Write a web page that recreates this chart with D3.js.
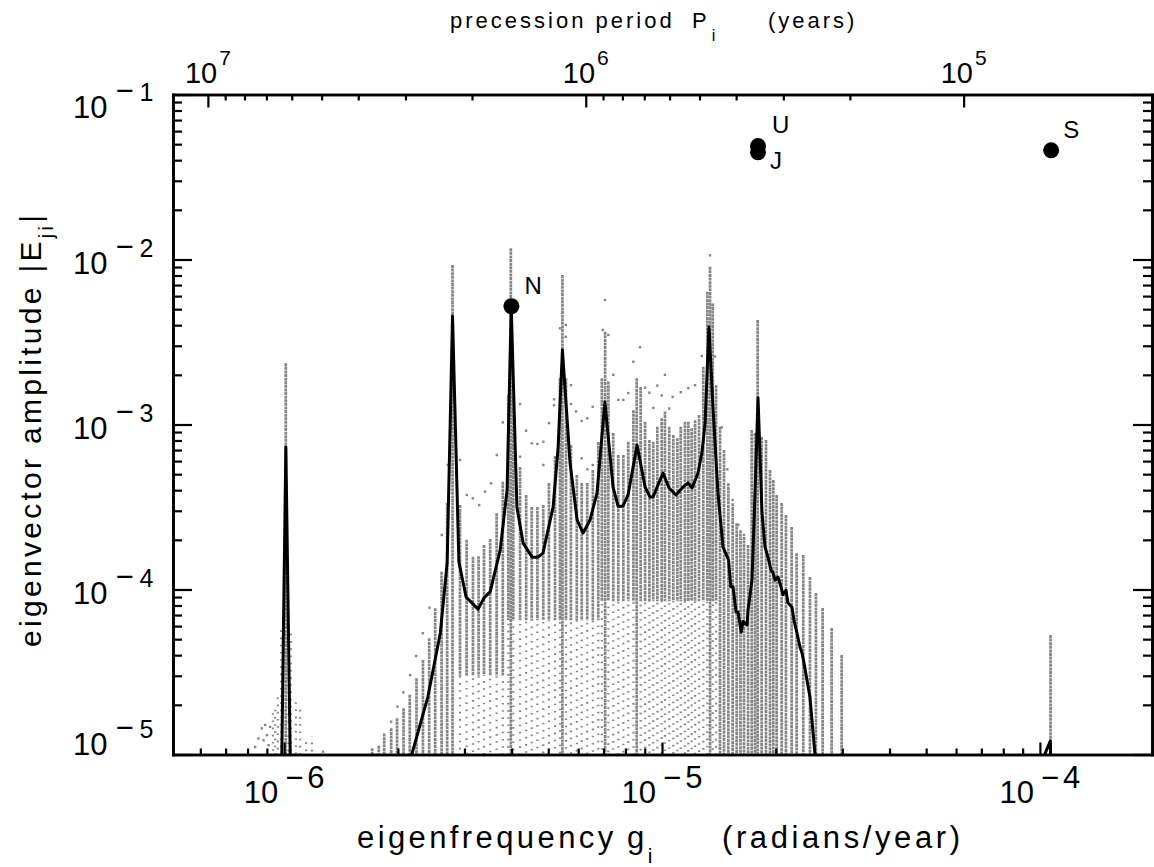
<!DOCTYPE html>
<html>
<head>
<meta charset="utf-8">
<script src="https://cdn.jsdelivr.net/npm/d3@7"></script>
<style>
  html, body { margin: 0; padding: 0; background: #fff; }
  svg { display: block; font-family: "Liberation Sans", Arial, sans-serif; }
</style>
</head>
<body>
<svg id="chart" width="1154" height="867"></svg>
<script>
// ---- axis ranges ----
const xDomain = [5.08e-7, 1.98e-4];   // eigenfrequency g (rad/yr)
const yDomain = [1e-5, 1e-1];         // eigenvector amplitude |E|

// ---- tick values ----
const bottomMajor = [1e-6, 1e-5, 1e-4];
const bottomExp = ["−6", "−5", "−4"];
const bottomMinor = [6e-7, 7e-7, 8e-7, 9e-7,
  2e-6, 3e-6, 4e-6, 5e-6, 6e-6, 7e-6, 8e-6, 9e-6,
  2e-5, 3e-5, 4e-5, 5e-5, 6e-5, 7e-5, 8e-5, 9e-5];
const leftMajor = [1e-5, 1e-4, 1e-3, 1e-2, 1e-1];
const leftExp = ["−5", "−4", "−3", "−2", "−1"];
const leftMinor = [2e-5, 3e-5, 4e-5, 5e-5, 6e-5, 7e-5, 8e-5, 9e-5,
  2e-4, 3e-4, 4e-4, 5e-4, 6e-4, 7e-4, 8e-4, 9e-4,
  2e-3, 3e-3, 4e-3, 5e-3, 6e-3, 7e-3, 8e-3, 9e-3,
  2e-2, 3e-2, 4e-2, 5e-2, 6e-2, 7e-2, 8e-2, 9e-2];
const topMajor = [1e7, 1e6, 1e5];     // precession period P (yr)
const topExp = ["7", "6", "5"];
const topMinor = [2e5, 3e5, 4e5, 5e5, 6e5, 7e5, 8e5, 9e5,
  2e6, 3e6, 4e6, 5e6, 6e6, 7e6, 8e6, 9e6];

// ---- binned eigenvector columns: frequency, highest amplitude, lower end of the dense part ----
const colFreq = [
  9.34e-7, 9.47e-7, 9.62e-7, 9.82e-7, 1.01e-6, 1.027e-6, 1.042e-6, 1.074e-6, 1.102e-6, 1.143e-6, 1.184e-6,
  1.71e-6, 1.78e-6, 1.84e-6, 1.92e-6, 1.99e-6, 2.07e-6, 2.15e-6, 2.24e-6, 2.33e-6, 2.42e-6, 2.51e-6, 2.61e-6, 2.70e-6, 2.79e-6,
  2.92e-6, 3.04e-6, 3.16e-6, 3.27e-6, 3.38e-6, 3.51e-6, 3.65e-6, 3.79e-6,
  3.92e-6, 3.98e-6, 4.04e-6, 4.21e-6, 4.37e-6, 4.52e-6, 4.68e-6, 4.85e-6, 5.02e-6, 5.21e-6, 5.37e-6, 5.45e-6, 5.57e-6, 5.74e-6, 5.95e-6, 6.13e-6, 6.34e-6, 6.56e-6, 6.78e-6,
  6.93e-6, 7.07e-6, 7.21e-6, 7.43e-6, 7.66e-6, 7.90e-6, 8.14e-6, 8.40e-6, 8.57e-6, 8.78e-6, 9.02e-6, 9.26e-6, 9.48e-6, 9.72e-6, 9.98e-6,
  1.018e-5, 1.045e-5, 1.071e-5, 1.098e-5, 1.121e-5, 1.150e-5, 1.174e-5, 1.198e-5, 1.223e-5, 1.253e-5, 1.286e-5, 1.318e-5, 1.340e-5, 1.362e-5, 1.390e-5,
  1.424e-5, 1.459e-5, 1.498e-5, 1.538e-5, 1.576e-5, 1.613e-5, 1.648e-5, 1.689e-5, 1.727e-5, 1.762e-5, 1.791e-5, 1.835e-5, 1.884e-5, 1.931e-5, 1.970e-5,
  2.011e-5, 2.073e-5, 2.128e-5, 2.203e-5, 2.271e-5, 2.365e-5, 2.463e-5, 2.555e-5, 2.661e-5, 2.811e-5, 2.988e-5,
  1.067e-4
];
const colTop = [
  1.78e-5, 2.0e-5, 2.30e-5, 5.68e-5, 2.35e-3, 5.55e-5, 5.43e-5, 2.24e-5, 1.95e-5, 1.20e-5, 1.28e-5,
  1.09e-5, 1.13e-5, 1.34e-5, 1.44e-5, 1.66e-5, 1.91e-5, 2.30e-5, 2.90e-5, 3.74e-5, 5.06e-5, 7.69e-5, 1.28e-4, 3.34e-4, 9.26e-3,
  3.25e-4, 2.0e-4, 1.58e-4, 1.59e-4, 1.86e-4, 2.02e-4, 2.90e-4, 4.50e-4,
  1.51e-3, 1.17e-2, 1.47e-3, 5.52e-4, 3.74e-4, 3.16e-4, 3.16e-4, 3.25e-4, 4.42e-4, 6.44e-4, 1.91e-3, 8.05e-3, 1.91e-3, 7.51e-4, 4.94e-4, 4.42e-4, 4.42e-4, 5.30e-4, 7.83e-4,
  1.91e-3, 3.65e-3, 1.82e-3, 8.88e-4, 6.53e-4, 6.53e-4, 7.86e-4, 1.22e-3, 1.91e-3, 1.69e-3, 1.04e-3, 8.05e-4, 7.86e-4, 9.70e-4, 1.09e-3,
  1.20e-3, 9.70e-4, 8.63e-4, 8.25e-4, 9.70e-4, 1.04e-3, 1.04e-3, 9.48e-4, 1.06e-3, 1.14e-3, 2.24e-3, 6.38e-3, 9.04e-3, 5.42e-3, 1.73e-3,
  9.70e-4, 7.0e-4, 4.40e-4, 3.33e-4, 2.52e-4, 2.29e-4, 2.08e-4, 1.86e-4, 9.26e-4, 8.88e-4, 4.30e-3, 8.40e-4, 8.05e-4, 5.30e-4, 4.61e-4,
  3.74e-4, 3.34e-4, 2.83e-4, 2.39e-4, 1.66e-4, 1.62e-4, 1.19e-4, 9.52e-5, 7.72e-5, 5.84e-5, 4.01e-5,
  5.3e-5
];
const colDense = [
  1.78e-5, 2.0e-5, 2.30e-5, 5.68e-5, 1e-5, 5.55e-5, 5.43e-5, 2.24e-5, 1.95e-5, 1.20e-5, 1.28e-5,
  1e-5, 1e-5, 1e-5, 1e-5, 1e-5, 1e-5, 1e-5, 1e-5, 1e-5, 1e-5, 1e-5, 1e-5, 1e-5, 1e-5,
  3e-5, 3e-5, 3e-5, 3e-5, 3e-5, 3e-5, 3e-5, 3e-5,
  6.5e-5, 1e-5, 6.5e-5, 6.5e-5, 6.5e-5, 6.5e-5, 6.5e-5, 6.5e-5, 6.5e-5, 6.5e-5, 6.5e-5, 1e-5, 6.5e-5, 6.5e-5, 6.5e-5, 6.5e-5, 6.5e-5, 6.5e-5, 6.5e-5,
  8.5e-5, 1e-5, 8.5e-5, 8.5e-5, 8.5e-5, 8.5e-5, 8.5e-5, 8.5e-5, 1e-5, 8.5e-5, 8.5e-5, 8.5e-5, 8.5e-5, 8.5e-5, 8.5e-5,
  8.5e-5, 8.5e-5, 8.5e-5, 8.5e-5, 8.5e-5, 8.5e-5, 8.5e-5, 8.5e-5, 8.5e-5, 8.5e-5, 8.5e-5, 8.5e-5, 1e-5, 8.5e-5, 8.5e-5,
  1e-5, 1e-5, 1e-5, 1e-5, 1e-5, 1e-5, 1e-5, 1e-5, 1e-5, 1e-5, 1e-5, 1e-5, 1e-5, 1e-5, 1e-5,
  1e-5, 1e-5, 1e-5, 1e-5, 1e-5, 1e-5, 1e-5, 1e-5, 1e-5, 1e-5, 1e-5,
  1e-5
];

// ---- isolated eigenvector components above the columns ----
const dotFreq = [
  2.613e-6, 2.711e-6, 2.921e-6, 3.043e-6, 3.156e-6, 3.281e-6, 3.402e-6, 3.528e-6, 3.653e-6, 3.790e-6,
  4.211e-6, 4.211e-6, 4.368e-6, 4.522e-6, 4.679e-6, 4.853e-6, 4.853e-6, 5.023e-6, 5.180e-6, 5.180e-6,
  5.372e-6, 5.562e-6, 5.562e-6, 5.744e-6, 5.744e-6, 5.922e-6, 6.13e-6, 6.343e-6, 6.555e-6, 6.13e-6,
  6.343e-6, 6.555e-6, 7.066e-6, 6.967e-6, 7.211e-6, 7.432e-6, 7.661e-6, 7.898e-6, 8.142e-6, 8.396e-6,
  8.745e-6, 9.016e-6, 9.256e-6, 9.484e-6, 9.719e-6, 9.98e-6, 1.018e-5, 1.045e-5, 1.067e-5, 1.121e-5,
  1.174e-5, 1.223e-5, 1.274e-5, 1.340e-5, 1.381e-5, 1.439e-5, 1.489e-5, 1.538e-5, 1.592e-5, 1.648e-5,
  1.919e-6, 1.994e-6, 2.069e-6, 2.154e-6, 2.235e-6, 2.327e-6, 2.424e-6,
  8.38e-7, 8.55e-7, 8.73e-7, 8.82e-7, 8.91e-7, 9.0e-7, 9.09e-7, 9.18e-7, 1.268e-6
];
const dotAmp = [
  2.14e-4, 5.68e-4, 6.09e-4, 3.74e-4, 3.57e-4, 3.25e-4, 3.92e-4, 4.40e-4, 6.53e-4, 1.03e-3,
  1.33e-3, 6.38e-4, 9.17e-4, 7.69e-4, 7.62e-4, 7.86e-4, 5.68e-4, 1.02e-3, 1.42e-3, 1.31e-3,
  3.83e-3, 4.01e-3, 3.40e-3, 1.73e-3, 1.33e-3, 1.20e-3, 1.05e-3, 1.09e-3, 1.28e-3, 6.24e-4,
  5.35e-4, 5.68e-4, 5.68e-3, 3.74e-3, 3.49e-3, 2.0e-3, 1.41e-3, 1.41e-3, 1.55e-3, 2.40e-3,
  2.94e-3, 1.67e-3, 1.56e-3, 1.26e-3, 1.72e-3, 1.50e-3, 2.0e-3, 1.25e-3, 1.47e-3, 1.57e-3,
  1.66e-3, 1.73e-3, 2.60e-3, 1.06e-2, 2.58e-3, 9.61e-4, 5.35e-4, 3.49e-4, 2.46e-4, 2.14e-4,
  1.58e-5, 1.95e-5, 2.38e-5, 3.03e-5, 3.95e-5, 5.43e-5, 7.76e-5,
  1.11e-5, 1.25e-5, 1.44e-5, 1.22e-5, 1.51e-5, 1.31e-5, 1.14e-5, 1.47e-5, 1.04e-5
];

// ---- mean amplitude curve ----
const lineFreq = [
  9.82e-7, 1.0104e-6, 1.042e-6, 2.0e-6,
  2.40e-6, 2.59e-6, 2.70e-6, 2.79e-6, 2.90e-6, 3.03e-6, 3.26e-6, 3.38e-6, 3.51e-6, 3.73e-6, 3.89e-6,
  3.99e-6, 4.13e-6, 4.29e-6, 4.53e-6, 4.70e-6, 4.84e-6, 5.15e-6, 5.31e-6, 5.45e-6, 5.71e-6, 5.96e-6,
  6.18e-6, 6.45e-6, 6.73e-6, 7.06e-6, 7.42e-6, 7.65e-6, 7.88e-6, 8.13e-6, 8.59e-6, 9.02e-6, 9.29e-6,
  9.47e-6, 1.006e-5, 1.044e-5, 1.089e-5, 1.137e-5, 1.172e-5, 1.201e-5, 1.245e-5, 1.276e-5, 1.30e-5,
  1.331e-5, 1.364e-5, 1.406e-5, 1.45e-5, 1.50e-5, 1.52e-5, 1.541e-5, 1.57e-5, 1.589e-5, 1.62e-5,
  1.638e-5, 1.679e-5, 1.689e-5, 1.73e-5, 1.76e-5, 1.795e-5, 1.839e-5, 1.873e-5, 1.907e-5, 1.943e-5,
  1.967e-5, 1.991e-5, 2.027e-5, 2.064e-5, 2.090e-5, 2.128e-5, 2.154e-5, 2.208e-5, 2.235e-5, 2.276e-5,
  2.318e-5, 2.347e-5, 2.375e-5, 2.463e-5, 2.54e-5, 2.6e-5,
  9.06e-5, 1.066e-4, 1.07e-4
];
const lineAmp = [
  5e-6, 7.31e-4, 5e-6, 5e-6,
  2.23e-5, 5.45e-5, 1.45e-4, 4.55e-3, 1.47e-4, 9.0e-5, 7.6e-5, 8.9e-5, 9.7e-5, 1.73e-4, 4.0e-4,
  5.19e-3, 3.16e-4, 1.91e-4, 1.57e-4, 1.57e-4, 1.66e-4, 3.16e-4, 7.3e-4, 2.83e-3, 5.84e-4, 2.64e-4,
  2.2e-4, 2.64e-4, 3.85e-4, 1.37e-3, 4.18e-4, 3.2e-4, 3.2e-4, 3.74e-4, 7.5e-4, 4.18e-4, 3.64e-4,
  3.64e-4, 5.08e-4, 4.12e-4, 3.74e-4, 4.18e-4, 4.42e-4, 4.12e-4, 5.08e-4, 6.8e-4, 1.02e-3,
  3.9e-3, 1.28e-3, 3.85e-4, 1.81e-4, 1.51e-4, 1.04e-4, 1.04e-4, 7.3e-5, 7.3e-5, 5.5e-5,
  6.4e-5, 6.09e-5, 7.51e-5, 1.14e-4, 3.49e-4, 1.45e-3, 2.91e-4, 1.81e-4, 1.57e-4, 1.31e-4,
  1.26e-4, 1.14e-4, 1.19e-4, 1.04e-4, 9.3e-5, 9.9e-5, 8.3e-5, 7.8e-5, 6.5e-5, 5.45e-5,
  4.48e-5, 4.12e-5, 3.59e-5, 2.23e-5, 1.0e-5, 5e-6,
  5e-6, 1.21e-5, 5e-6
];

// ---- planets ----
const planetNames = ["N", "U", "J", "S"];
const planetFreq = [3.994e-6, 1.795e-5, 1.795e-5, 1.071e-4];
const planetAmp = [5.21e-3, 4.87e-2, 4.46e-2, 4.59e-2];

// ================= drawing =================
const svg = d3.select("#chart");
const plot = { left: 173, right: 1152, top: 94.5, bottom: 754.5 };
const gray = "#858585";

svg.append("rect").attr("width", 1154).attr("height", 867).attr("fill", "#fff");

const x = d3.scaleLog().domain(xDomain).range([plot.left, plot.right]);
const y = d3.scaleLog().domain(yDomain).range([plot.bottom, plot.top]);
const xTop = d3.scaleLog()
  .domain([2 * Math.PI / xDomain[0], 2 * Math.PI / xDomain[1]])
  .range([plot.left, plot.right]);

svg.append("defs").append("clipPath").attr("id", "plotClip")
  .append("rect")
  .attr("x", plot.left).attr("y", plot.top)
  .attr("width", plot.right - plot.left).attr("height", plot.bottom - plot.top);

const data = svg.append("g").attr("clip-path", "url(#plotClip)");

const cols = colFreq.map((g, i) => ({ g, top: colTop[i], dense: Math.min(colDense[i], colTop[i]), i }));

// sparse lower portions of the columns
data.append("g").selectAll("line")
  .data(cols.filter(d => d.dense > yDomain[0]))
  .join("line")
  .attr("x1", d => x(d.g)).attr("x2", d => x(d.g))
  .attr("y1", d => y(d.dense)).attr("y2", y(yDomain[0]))
  .attr("stroke", gray).attr("stroke-width", 2.2)
  .attr("stroke-dasharray", "1.6 5.6")
  .attr("stroke-dashoffset", d => (d.i * 2.3) % 7.2);

// dense upper portions of the columns
data.append("g").selectAll("line")
  .data(cols.filter(d => d.top > d.dense))
  .join("line")
  .attr("x1", d => x(d.g)).attr("x2", d => x(d.g))
  .attr("y1", d => y(d.top)).attr("y2", d => y(d.dense))
  .attr("stroke", gray).attr("stroke-width", 2.7)
  .attr("stroke-dasharray", "3 0.6");

// isolated points
data.append("g").selectAll("rect")
  .data(dotFreq.map((g, i) => [g, dotAmp[i]]))
  .join("rect")
  .attr("x", d => x(d[0]) - 1.2).attr("y", d => y(d[1]) - 1.2)
  .attr("width", 2.4).attr("height", 2.4)
  .attr("fill", gray);

// mean curve
const line = d3.line().x(d => x(d[0])).y(d => y(d[1]));
data.append("path")
  .datum(lineFreq.map((g, i) => [g, lineAmp[i]]))
  .attr("d", line)
  .attr("fill", "none").attr("stroke", "#000")
  .attr("stroke-width", 3).attr("stroke-linejoin", "round");

// planets
const labelOffset = { N: [13, -12], U: [14, -13], J: [12, 17], S: [12, -12] };
const planets = planetNames.map((n, i) => ({ n, g: planetFreq[i], a: planetAmp[i] }));
svg.append("g").selectAll("circle").data(planets).join("circle")
  .attr("cx", d => x(d.g)).attr("cy", d => y(d.a)).attr("r", 8).attr("fill", "#000");
svg.append("g").selectAll("text").data(planets).join("text")
  .attr("x", d => x(d.g) + labelOffset[d.n][0])
  .attr("y", d => y(d.a) + labelOffset[d.n][1])
  .attr("font-size", 24).attr("fill", "#000")
  .text(d => d.n);

// ---- axes ----
function styleAxis(g) {
  g.select(".domain").attr("stroke", "#000").attr("stroke-width", 2.6).attr("stroke-linecap", "square");
  g.selectAll(".tick line").attr("stroke", "#000").attr("stroke-width", 2.2);
  g.selectAll(".tick text").remove();
}
function addAxis(axis, tf, major, minor, majLen, minLen) {
  const a1 = svg.append("g").attr("transform", tf)
    .call(axis.tickValues(major).tickSizeInner(-majLen).tickSizeOuter(0).tickFormat(() => ""));
  styleAxis(a1);
  const a2 = svg.append("g").attr("transform", tf)
    .call(axis.tickValues(minor).tickSizeInner(-minLen).tickSizeOuter(0).tickFormat(() => ""));
  styleAxis(a2);
}
addAxis(d3.axisBottom(x), `translate(0,${plot.bottom})`, bottomMajor, bottomMinor, 12, 6);
addAxis(d3.axisLeft(y), `translate(${plot.left},0)`, leftMajor, leftMinor, 19, 9);
addAxis(d3.axisRight(y), `translate(${plot.right},0)`, leftMajor, leftMinor, 19, 9);
addAxis(d3.axisTop(xTop), `translate(0,${plot.top})`, topMajor, topMinor, 13, 6);

// ---- tick labels ----
const lab = svg.append("g").attr("fill", "#000");

bottomMajor.forEach((v, i) => {
  const t = lab.append("text").attr("x", x(v)).attr("y", 803)
    .attr("text-anchor", "middle").attr("font-size", 31);
  t.append("tspan").text("10");
  t.append("tspan").attr("dx", 7).attr("dy", -15).text(bottomExp[i][0]);
  t.append("tspan").attr("dx", 4).text(bottomExp[i].slice(1));
});

leftMajor.forEach((v, i) => {
  const base = Math.max(plot.top + 23.5, Math.min(y(v) + 14, plot.bottom));
  const t = lab.append("text").attr("x", 73).attr("y", base).attr("font-size", 31);
  t.append("tspan").text("10");
  t.append("tspan").attr("dx", 8).attr("dy", -17).text(leftExp[i][0]);
  t.append("tspan").attr("dx", 6).attr("font-size", 25).text(leftExp[i].slice(1));
});

topMajor.forEach((v, i) => {
  const t = lab.append("text").attr("x", xTop(v)).attr("y", 83)
    .attr("text-anchor", "middle").attr("font-size", 29);
  t.append("tspan").text("10");
  t.append("tspan").attr("dx", 2).attr("dy", -18).attr("font-size", 21).text(topExp[i]);
});

// ---- axis titles ----
const tTop = lab.append("text").attr("x", 450).attr("y", 28)
  .attr("font-size", 22).attr("letter-spacing", 3);
tTop.append("tspan").text("precession period");
tTop.append("tspan").attr("x", 692).text("P");
tTop.append("tspan").attr("dx", 2).attr("dy", 13).attr("font-size", 16).text("i");
lab.append("text").attr("x", 768).attr("y", 28)
  .attr("font-size", 22).attr("letter-spacing", 3).text("(years)");

const tBot = lab.append("text").attr("x", 357).attr("y", 848)
  .attr("font-size", 31).attr("letter-spacing", 3.4);
tBot.append("tspan").text("eigenfrequency");
tBot.append("tspan").attr("x", 627).text("g");
tBot.append("tspan").attr("dx", 0).attr("dy", 15).attr("font-size", 21).text("i");
lab.append("text").attr("x", 722).attr("y", 848)
  .attr("font-size", 31).attr("letter-spacing", 3.6).text("(radians/year)");

const tLeft = lab.append("text")
  .attr("transform", "translate(41,647) rotate(-90)")
  .attr("font-size", 30).attr("letter-spacing", 3.3);
tLeft.append("tspan").text("eigenvector amplitude |E");
tLeft.append("tspan").attr("dy", 12).attr("font-size", 20).text("ji");
tLeft.append("tspan").attr("dy", -12).text("|");
</script>
</body>
</html>
